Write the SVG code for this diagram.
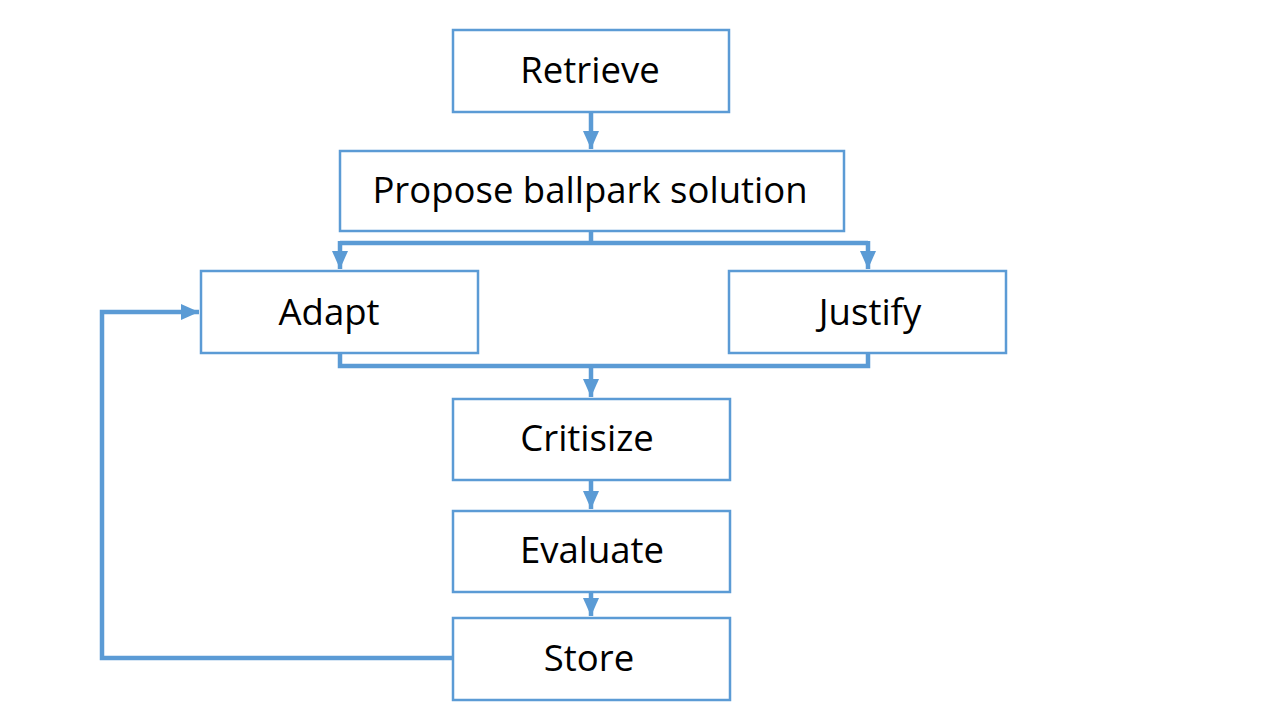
<svg xmlns="http://www.w3.org/2000/svg" width="1280" height="720" viewBox="0 0 1280 720">
<style>
.box{fill:#fff;stroke:#5B9BD5;stroke-width:2.5}
.lbl{font-family:"Open Sans","Liberation Sans",sans-serif;font-size:36.5px;fill:#000;text-anchor:middle}
.con{fill:none;stroke:#5B9BD5;stroke-width:4.5}
</style>
<defs>
<marker id="ah" markerUnits="userSpaceOnUse" markerWidth="18" markerHeight="18" refX="18" refY="8" orient="auto">
<path d="M0,0 L18,8 L0,16 Z" fill="#5B9BD5"/>
</marker>
</defs>
<rect width="1280" height="720" fill="#fff"/>
<g id="connectors">
<path class="con" d="M591,112 V149" marker-end="url(#ah)"/>
<path class="con" d="M591,231 V243 M340,243 H868"/>
<path class="con" d="M340,241 V269" marker-end="url(#ah)"/>
<path class="con" d="M868,241 V269" marker-end="url(#ah)"/>
<path class="con" d="M340,353 V366 H868 V353"/>
<path class="con" d="M591,366 V397" marker-end="url(#ah)"/>
<path class="con" d="M591,480 V509" marker-end="url(#ah)"/>
<path class="con" d="M591,592 V616" marker-end="url(#ah)"/>
<path class="con" d="M453,658 H102 V312 H199" marker-end="url(#ah)"/>
</g>
<g id="retrieve"><rect class="box" x="453" y="30" width="276" height="82"/><text class="lbl" x="590" y="83">Retrieve</text></g>
<g id="propose"><rect class="box" x="340" y="151" width="504" height="80"/><text class="lbl" x="590" y="203">Propose ballpark solution</text></g>
<g id="adapt"><rect class="box" x="201" y="271" width="277" height="82"/><text class="lbl" x="329" y="325">Adapt</text></g>
<g id="justify"><rect class="box" x="729" y="271" width="277" height="82"/><text class="lbl" x="870" y="325">Justify</text></g>
<g id="critisize"><rect class="box" x="453" y="399" width="277" height="81"/><text class="lbl" x="587" y="451">Critisize</text></g>
<g id="evaluate"><rect class="box" x="453" y="511" width="277" height="81"/><text class="lbl" x="592" y="563">Evaluate</text></g>
<g id="store"><rect class="box" x="453" y="618" width="277" height="82"/><text class="lbl" x="589" y="671">Store</text></g>
</svg>
